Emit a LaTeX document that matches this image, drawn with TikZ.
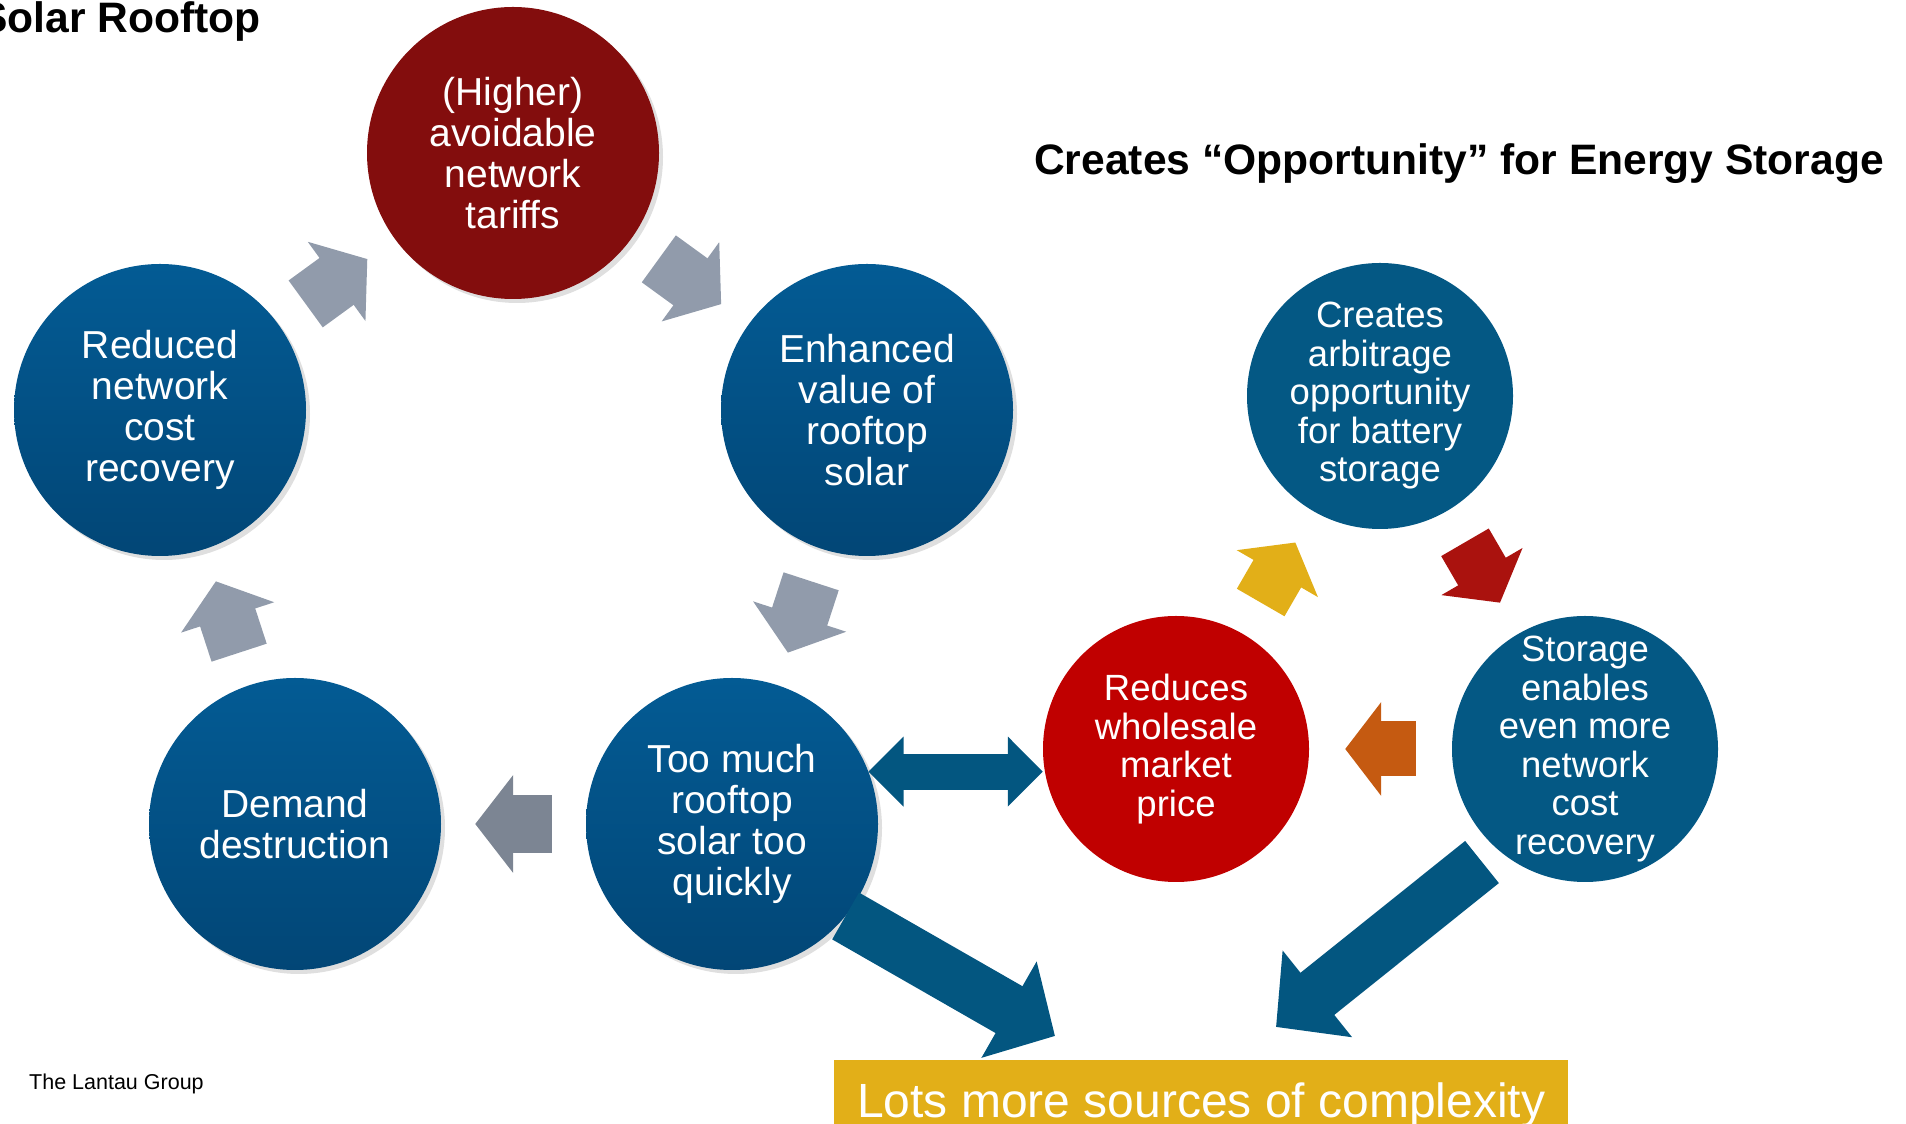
\documentclass[tikz,border=0pt]{standalone}
\usepackage{fontspec}
\setmainfont{Liberation Sans}
\usetikzlibrary{arrows.meta, positioning, shadows}

\definecolor{cycletop}{RGB}{3,91,148}
\definecolor{cyclebot}{RGB}{2,70,118}
\definecolor{tariffred}{RGB}{131,13,13}
\definecolor{storeblue}{RGB}{4,88,132}
\definecolor{marketred}{RGB}{192,0,0}
\definecolor{arrowblue}{RGB}{3,86,128}
\definecolor{arrowgray}{RGB}{145,155,171}
\definecolor{arrowgraydark}{RGB}{124,133,147}
\definecolor{sunyellow}{RGB}{226,175,24}
\definecolor{batteryred}{RGB}{170,18,14}
\definecolor{returnorange}{RGB}{197,90,17}

\tikzstyle{cycle} = [circle, minimum size=292pt, inner sep=0pt, text=white, align=center, font=\fontsize{39pt}{41pt}\selectfont, drop shadow={opacity=0.25, shadow xshift=4pt, shadow yshift=-4pt}]
\tikzstyle{cycleblue} = [cycle, top color=cycletop, bottom color=cyclebot]
\tikzstyle{store} = [circle, minimum size=266pt, inner sep=-30pt, text=white, align=center, font=\fontsize{36.5pt}{38.5pt}\selectfont]
\tikzstyle{cyclearrow} = [line width=58pt, draw=arrowgray, -{Triangle[length=38pt, width=96pt]}, shorten <=34pt, shorten >=34pt]
\tikzstyle{storearrow} = [line width=55pt, -{Triangle[length=36pt, width=92pt]}, shorten <=36pt, shorten >=36pt]
\tikzstyle{bigarrow} = [line width=54pt, draw=arrowblue, -{Triangle[length=53pt, width=108pt]}]
\tikzstyle{heading} = [inner sep=0pt, font=\bfseries\fontsize{42.6pt}{46pt}\selectfont]

\begin{document}
\begin{tikzpicture}[x=1pt, y=1pt]
\useasboundingbox (0,0) rectangle (1906,1124);

% Headings
\node (solar) [heading, anchor=base east] at (261,1091) {Solar Rooftop};
\node (storagetitle) [heading, anchor=base west] at (1034,949) {Creates “Opportunity” for Energy Storage};

% Rooftop solar cycle
\node (tariffs) [cycle, fill=tariffred] at (513,971) {
    (Higher)\\
    avoidable\\
    network\\
    tariffs
};

\node (reduced) [cycleblue, below of=tariffs, node distance=257pt, xshift=-353pt] {
    Reduced\\
    network\\
    cost\\
    recovery
};

\node (enhanced) [cycleblue, right of=reduced, node distance=707pt] {
    Enhanced\\
    value of\\
    rooftop\\
    solar
};

\node (demand) [cycleblue, below of=reduced, node distance=414pt, xshift=135pt] {
    Demand\\
    destruction
};

\node (toomuch) [cycleblue, right of=demand, node distance=437pt] {
    Too much\\
    rooftop\\
    solar too\\
    quickly
};

% Storage cycle
\node (wholesale) [store, fill=marketred] at (1176,375) {
    Reduces\\
    wholesale\\
    market\\
    price
};

\node (storage) [store, fill=storeblue, right of=wholesale, node distance=409pt] {
    Storage\\
    enables\\
    even more\\
    network\\
    cost\\
    recovery
};

\node (arbitrage) [store, fill=storeblue, above of=wholesale, node distance=353pt, xshift=204pt] {
    Creates\\
    arbitrage\\
    opportunity\\
    for battery\\
    storage
};

% Outcome
\node (complexity) [anchor=north west, fill=sunyellow, minimum width=734pt, inner sep=0pt, text height=57pt, text depth=30pt, text=white, font=\fontsize{48pt}{50pt}\selectfont] at (834,64) {Lots more sources of complexity};

\node (lantau) [anchor=base west, inner sep=0pt, font=\fontsize{21.5pt}{24pt}\selectfont] at (29,34) {The Lantau Group};

% Arrows
\draw [cyclearrow] (reduced) -- (tariffs);
\draw [cyclearrow] (tariffs) -- (enhanced);
\draw [cyclearrow] (enhanced) -- (toomuch);
\draw [cyclearrow, draw=arrowgraydark] (toomuch) -- (demand);
\draw [cyclearrow] (demand) -- (reduced);

\draw [storearrow, draw=sunyellow] (wholesale) -- (arbitrage);
\draw [storearrow, draw=batteryred] (arbitrage) -- (storage);
\draw [storearrow, draw=returnorange] (storage) -- (wholesale);

\draw [line width=36pt, draw=arrowblue, {Triangle[length=35pt, width=68pt]}-{Triangle[length=35pt, width=68pt]}] (toomuch.21) -- (toomuch.21 -| wholesale.west);

\draw [bigarrow] (toomuch.-39) -- ([xshift=221pt, yshift=24pt]complexity.north west);
\draw [bigarrow, shorten <=20pt] (storage.229) -- ([xshift=442pt, yshift=33pt]complexity.north west);

\end{tikzpicture}
\end{document}
